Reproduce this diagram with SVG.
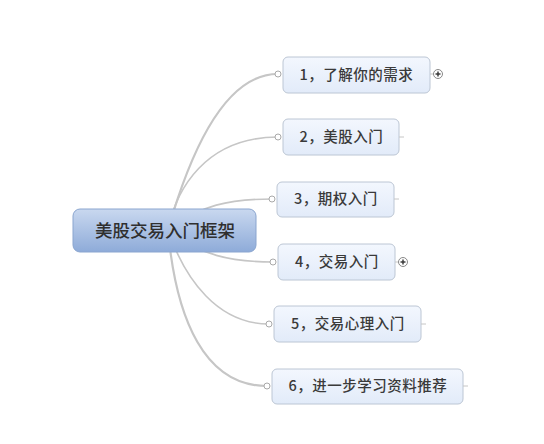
<svg xmlns="http://www.w3.org/2000/svg" width="544" height="444" viewBox="0 0 544 444">
<defs>
<linearGradient id="gMain" x1="0" y1="0" x2="0" y2="1">
<stop offset="0" stop-color="#c9d8ef"/>
<stop offset="1" stop-color="#8eabd9"/>
</linearGradient>
<linearGradient id="gSub" x1="0" y1="0" x2="0" y2="1">
<stop offset="0" stop-color="#f3f7fe"/>
<stop offset="1" stop-color="#e2ebf9"/>
</linearGradient>
</defs>
<style>
.line{fill:none;stroke:#c6c6c6;stroke-width:1.6}
.thick{stroke-width:2.2}
.end{fill:#fff;stroke:#a9a9a9;stroke-width:1}
.tick{stroke:#c6c6c6;stroke-width:1}
.sub{fill:url(#gSub);stroke:#bcc6d4;stroke-width:1}
.st{font-family:"Noto Sans CJK SC","Liberation Sans",sans-serif;font-size:14.5px;letter-spacing:0.5px;fill:#3a3a3a;text-anchor:middle;font-weight:500}
.mt{font-family:"Noto Sans CJK SC","Liberation Sans",sans-serif;font-size:17.5px;fill:#2f2f2f;text-anchor:middle;font-weight:500}
.plus{fill:#fff;stroke:#888;stroke-width:1}
.pl{stroke:#333;stroke-width:1.4}
</style>
<rect width="544" height="444" fill="#fff"/>
<g id="connectors">
<path class="line thick" d="M168,230 C188,160 222,74 278,74"/>
<path class="line" d="M168,230 C176,190 205,137 278,137"/>
<path class="line" d="M168,230 C200,205 230,199 272,199"/>
<path class="line" d="M168,230 C200,255 230,262 273,262"/>
<path class="line" d="M168,230 C185,280 218,324 269,324"/>
<path class="line thick" d="M168,230 C176,320 205,386 267,386"/>
<circle class="end" cx="278" cy="74" r="3"/>
<circle class="end" cx="278" cy="137" r="3"/>
<circle class="end" cx="272" cy="199" r="3"/>
<circle class="end" cx="273" cy="262" r="3"/>
<circle class="end" cx="269" cy="324" r="3"/>
<circle class="end" cx="267" cy="386" r="3"/>
</g>
<g id="central">
<rect x="73" y="209" width="183" height="43" rx="7" fill="url(#gMain)" stroke="#8aa5cf" stroke-width="1"/>
<text class="mt" x="165" y="237">美股交易入门框架</text>
</g>
<g id="node1">
<rect class="sub" x="283" y="57" width="147" height="36" rx="5"/>
<text class="st" x="356.5" y="80">1，了解你的需求</text>
<line class="tick" x1="430" y1="74" x2="434" y2="74"/>
<circle class="plus" cx="438" cy="74" r="4.5"/>
<line class="pl" x1="435.5" y1="74" x2="440.5" y2="74"/>
<line class="pl" x1="438" y1="71.5" x2="438" y2="76.5"/>
</g>
<g id="node2">
<rect class="sub" x="283" y="119" width="116" height="36" rx="5"/>
<text class="st" x="341.5" y="142">2，美股入门</text>
<line class="tick" x1="399" y1="137" x2="404" y2="137"/>
</g>
<g id="node3">
<rect class="sub" x="277" y="182" width="117" height="35" rx="5"/>
<text class="st" x="336" y="204">3，期权入门</text>
<line class="tick" x1="394" y1="199" x2="399" y2="199"/>
</g>
<g id="node4">
<rect class="sub" x="278" y="244" width="117" height="36" rx="5"/>
<text class="st" x="337" y="267">4，交易入门</text>
<line class="tick" x1="395" y1="262" x2="399" y2="262"/>
<circle class="plus" cx="403" cy="262" r="4.5"/>
<line class="pl" x1="400.5" y1="262" x2="405.5" y2="262"/>
<line class="pl" x1="403" y1="259.5" x2="403" y2="264.5"/>
</g>
<g id="node5">
<rect class="sub" x="274" y="306" width="147" height="36" rx="5"/>
<text class="st" x="348" y="329">5，交易心理入门</text>
<line class="tick" x1="421" y1="324" x2="426" y2="324"/>
</g>
<g id="node6">
<rect class="sub" x="272" y="369" width="191" height="35" rx="5"/>
<text class="st" x="368" y="391">6，进一步学习资料推荐</text>
<line class="tick" x1="463" y1="386" x2="468" y2="386"/>
</g>
</svg>
